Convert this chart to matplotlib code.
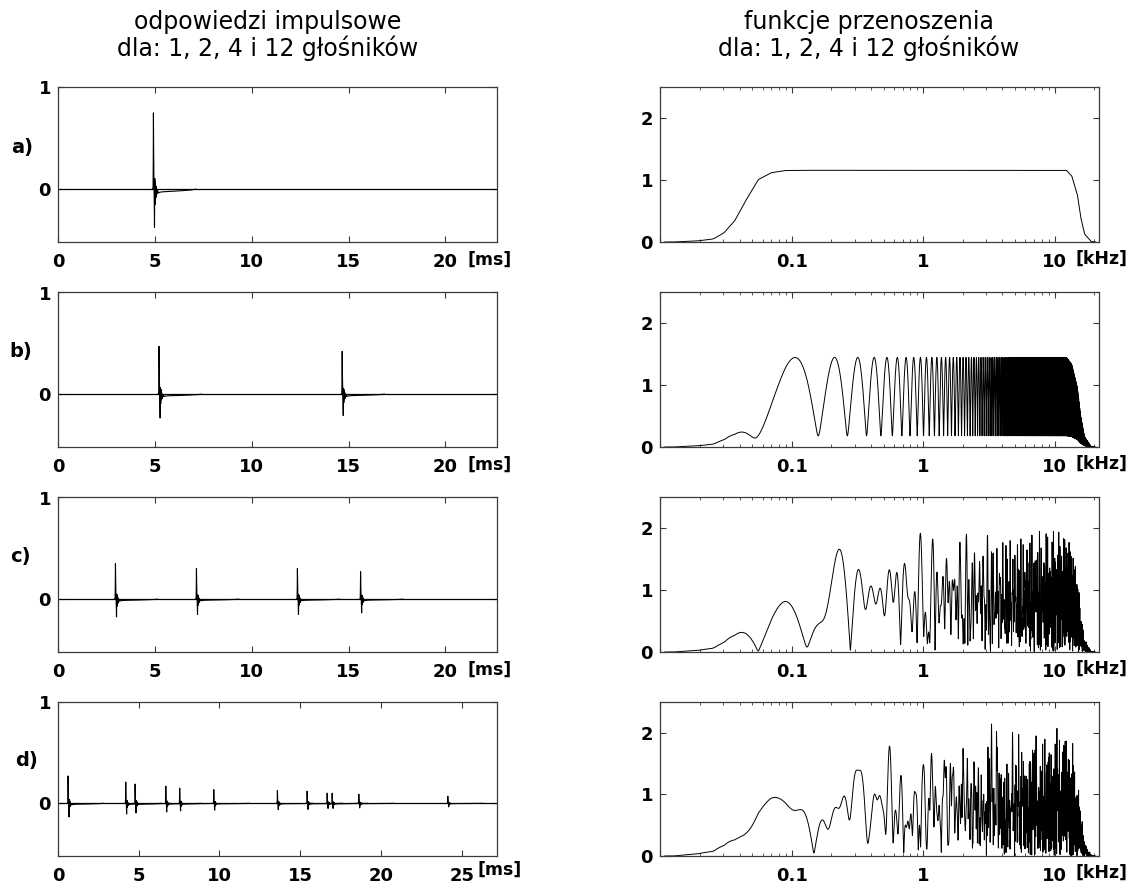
import numpy as np
import matplotlib
matplotlib.use("Agg")
import matplotlib.pyplot as plt
from matplotlib.ticker import FixedLocator, LogLocator, NullFormatter

# ---------------- data ----------------
titles_left = ["odpowiedzi impulsowe", "dla: 1, 2, 4 i 12 głośników"]
titles_right = ["funkcje przenoszenia", "dla: 1, 2, 4 i 12 głośników"]
panel_labels = ["a)", "b)", "c)", "d)"]

# impulse responses: arrival times [ms] and peak heights of each loudspeaker
times_a = [4.91]
heights_a = [0.75]
times_b = [5.20, 14.65]
heights_b = [0.47, 0.42]
times_c = [2.95, 7.13, 12.34, 15.60]
heights_c = [0.35, 0.30, 0.30, 0.27]
times_d = [0.61, 4.18, 4.76, 6.66, 7.52, 9.63, 13.57, 15.41, 16.65, 16.96, 18.61, 24.12]
heights_d = [0.27, 0.21, 0.19, 0.17, 0.15, 0.135, 0.125, 0.12, 0.10, 0.10, 0.09, 0.07]

# shape of one loudspeaker impulse (offset ms, value relative to its peak)
pulse_t = [-0.04, 0.0, 0.01, 0.02, 0.03, 0.045, 0.06, 0.075, 0.09, 0.105, 0.12,
           0.135, 0.15, 0.17, 0.19, 0.21, 0.24, 0.28, 0.35, 0.5, 0.8, 1.2, 1.6, 2.0, 2.2]
pulse_v = [0.0, 0.02, 0.33, 1.0, 0.56, 0.12, -0.14, -0.5, 0.14, -0.2, 0.1,
           -0.12, 0.04, -0.1, 0.0, -0.06, -0.02, -0.05, -0.04, -0.035, -0.03,
           -0.025, -0.018, -0.01, 0.0]

# time-axis lengths [ms]
tmax_abc = 22.68
tmax_d = 27.21

# single loudspeaker transfer function (panel a)
env_f = [0.0108, 0.0126, 0.016, 0.0196, 0.0253, 0.0305, 0.0369, 0.0446, 0.0556,
         0.0694, 0.089, 0.12, 12.3, 13.5, 14.9, 15.8, 16.9, 18.9, 20.5]
env_v = [0.0, 0.0, 0.01, 0.02, 0.05, 0.15, 0.35, 0.67, 1.01,
         1.12, 1.157, 1.16, 1.16, 1.07, 0.77, 0.40, 0.13, 0.01, 0.0]

# gains of the loudspeakers in the summed transfer functions (from peak/notch levels)
gains_a = [1.0]
gains_b = [0.703, 0.547]
gains_c = [0.487, 0.418, 0.418, 0.375]
gains_d = [0.414, 0.322, 0.291, 0.261, 0.23, 0.207, 0.192, 0.184, 0.153, 0.153, 0.138, 0.107]

x_ticks_abc = [0, 5, 10, 15, 20]
x_ticks_d = [0, 5, 10, 15, 20, 25]
f_ticks = [0.1, 1, 10]
f_ticklabels = ["0.1", "1", "10"]

# ---------------- styling ----------------
plt.rcParams["font.family"] = ["DejaVu Sans"]

fig = plt.figure(figsize=(11.34, 8.88), dpi=100)

W, H = 1134.0, 888.0
rows_px = [(87.5, 242.0), (292.5, 447.0), (497.5, 652.0), (702.0, 856.0)]
left_px = (57.9, 497.4)
right_px = (659.9, 1098.8)

spine_col = "#3a3a3a"
tick_font = dict(fontsize=13, fontweight="bold")

times = [times_a, times_b, times_c, times_d]
heights = [heights_a, heights_b, heights_c, heights_d]
gains = [gains_a, gains_b, gains_c, gains_d]

freq = np.arange(0.0108, 20.5, 0.001)
env = np.interp(np.log10(freq), np.log10(env_f), env_v)


def rect(xpx, ypx):
    return [xpx[0] / W, 1 - ypx[1] / H, (xpx[1] - xpx[0]) / W, (ypx[1] - ypx[0]) / H]


for i in range(4):
    # ----- impulse response -----
    ax = fig.add_axes(rect(left_px, rows_px[i]))
    tmax = tmax_d if i == 3 else tmax_abc
    ax.plot([0, tmax], [0, 0], color="black", lw=0.9)
    for t0, h in zip(times[i], heights[i]):
        ax.plot(np.array(pulse_t) + t0, np.array(pulse_v) * h, color="black", lw=0.8)
    ax.set_xlim(0, tmax)
    ax.set_ylim(-0.52, 1.0)
    xt = x_ticks_d if i == 3 else x_ticks_abc
    ax.set_xticks(xt)
    ax.set_xticklabels([str(v) for v in xt], **tick_font)
    ax.set_yticks([0, 1])
    ax.set_yticklabels(["0", "1"], **tick_font)
    ax.tick_params(direction="in", top=True, right=True, length=4, width=0.8,
                   color=spine_col, pad=5)
    ax.tick_params(axis="x", pad=8)
    for s in ax.spines.values():
        s.set_color(spine_col)
        s.set_linewidth(0.9)
    if i == 3:
        ax.text(0.954, -0.09, "[ms]", transform=ax.transAxes, ha="left", va="center",
                fontsize=12.5, fontweight="bold")
    else:
        ax.text(0.933, -0.112, "[ms]", transform=ax.transAxes, ha="left", va="center",
                fontsize=12.5, fontweight="bold")

    # ----- transfer function -----
    axr = fig.add_axes(rect(right_px, rows_px[i]))
    s = np.zeros_like(freq, dtype=complex)
    for t0, g in zip(times[i], gains[i]):
        s += g * np.exp(-2j * np.pi * freq * t0)
    axr.plot(freq, np.abs(s) * env, color="black", lw=0.7)
    axr.set_xscale("log")
    axr.set_xlim(0.0099, 21.7)
    axr.set_ylim(0, 2.5)
    axr.xaxis.set_major_locator(FixedLocator([0.01] + f_ticks))
    axr.set_xticklabels([""] + f_ticklabels, **tick_font)
    axr.xaxis.set_minor_locator(LogLocator(base=10, subs=np.arange(2, 10), numticks=20))
    axr.xaxis.set_minor_formatter(NullFormatter())
    axr.set_yticks([0, 1, 2])
    axr.set_yticklabels(["0", "1", "2"], **tick_font)
    axr.tick_params(which="major", direction="in", top=True, right=True, length=4,
                    width=0.8, color=spine_col, pad=5)
    axr.tick_params(which="minor", direction="in", top=True, right=True, length=2.5,
                    width=0.6, color=spine_col)
    axr.tick_params(axis="x", which="major", pad=8)
    for s_ in axr.spines.values():
        s_.set_color(spine_col)
        s_.set_linewidth(0.9)
    axr.text(0.947, -0.11, "[kHz]", transform=axr.transAxes, ha="left", va="center",
             fontsize=12.5, fontweight="bold")

# panel letters
label_pos = [(22, 148), (21, 352), (20, 556), (26, 760)]
for lab, (px, py) in zip(panel_labels, label_pos):
    fig.text(px / W, 1 - py / H, lab, ha="center", va="center",
             fontsize=14, fontweight="bold")

# column titles
for txt, py in zip(titles_left, [22, 48]):
    fig.text(268 / W, 1 - py / H, txt, ha="center", va="center", fontsize=17)
for txt, py in zip(titles_right, [22, 48]):
    fig.text(869 / W, 1 - py / H, txt, ha="center", va="center", fontsize=17)

fig.savefig("out.png", dpi=100, facecolor="white")
